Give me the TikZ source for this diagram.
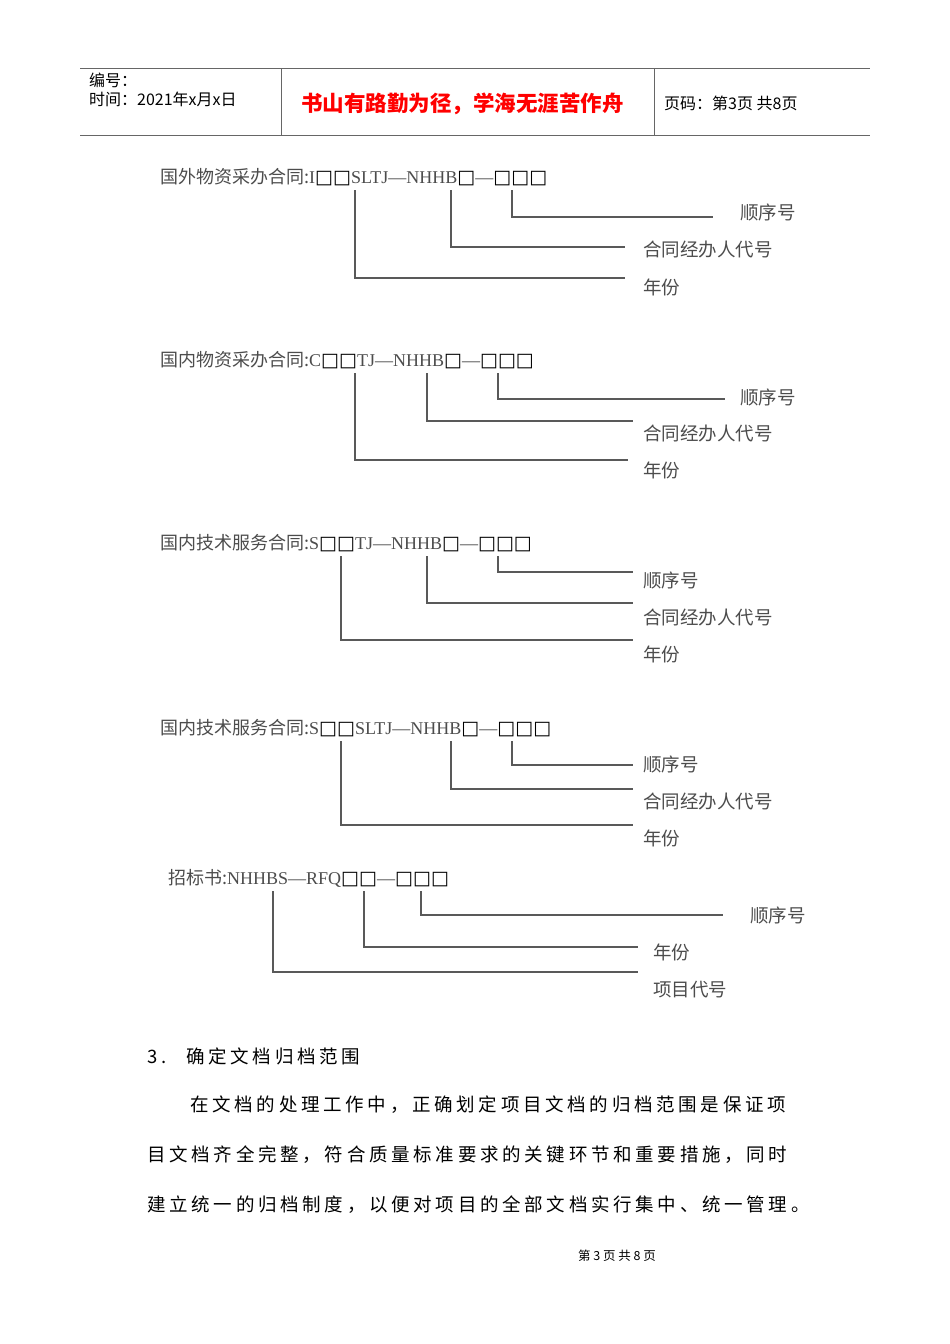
\documentclass[tikz,border=0pt]{standalone}
\usepackage{fontspec}
\setmainfont{Noto Sans CJK SC}
\newfontfamily\dvfont{DejaVu Sans}
\newfontfamily\serifl{Liberation Serif}
\newfontfamily\bodyfont[LetterSpace=20]{Noto Sans CJK SC}
\newcommand{\bx}{{\color{black}\dvfont\fontsize{19}{19}\selectfont\textbf{□}}}
\begin{document}
\begin{tikzpicture}[x=1pt,y=-1pt,
  lbl/.style={anchor=west,inner sep=0,text=black!70,font=\fontsize{18.5}{18.5}\selectfont},
  code/.style={anchor=west,inner sep=0,text=black!70,font=\fontsize{18}{18}\selectfont},
  ln/.style={draw=black!65,line width=1.1pt},
  hd/.style={anchor=west,inner sep=0,font=\fontsize{16}{16}\selectfont},
  body/.style={anchor=west,inner sep=0,font=\bodyfont\fontsize{18.5}{19}\selectfont}]
\useasboundingbox (0,0) rectangle (950,1344);
% header
\draw[black!60,line width=1pt] (80,68) -- (870,68) (80,135) -- (870,135) (281,68) -- (281,135) (654,68) -- (654,135);
\node[hd] (h1) at (89,80) {编号：};
\node[hd] (h2) at (89,99) {时间：2021年x月x日};
\node[hd,text=red,font=\bfseries\fontsize{21.5}{22}\selectfont] (h3) at (301,104) {书山有路勤为径，学海无涯苦作舟};
\node[hd] (h4) at (664,103) {页码：第3页 共8页};
% diagram 1
\node[code] (c1) at (160,177) {国外物资采办合同:{\serifl I\bx\bx SLTJ—NHHB\bx—\bx\bx\bx}};
\node[lbl] (a1) at (740,212) {顺序号};
\node[lbl] (b1) at (643,249) {合同经办人代号};
\node[lbl] (y1) at (643,287) {年份};
\draw[ln] (512,190) -- (512,217) -- (713,217);
\draw[ln] (451,190) -- (451,247) -- (625,247);
\draw[ln] (355,190) -- (355,278) -- (625,278);
% diagram 2
\node[code] (c2) at (160,360) {国内物资采办合同:{\serifl C\bx\bx TJ—NHHB\bx—\bx\bx\bx}};
\node[lbl] (a2) at (740,397) {顺序号};
\node[lbl] (b2) at (643,433) {合同经办人代号};
\node[lbl] (y2) at (643,470) {年份};
\draw[ln] (498,373) -- (498,399) -- (725,399);
\draw[ln] (427,373) -- (427,421) -- (633,421);
\draw[ln] (355,373) -- (355,460) -- (628,460);
% diagram 3
\node[code] (c3) at (160,543) {国内技术服务合同:{\serifl S\bx\bx TJ—NHHB\bx—\bx\bx\bx}};
\node[lbl] (a3) at (643,580) {顺序号};
\node[lbl] (b3) at (643,617) {合同经办人代号};
\node[lbl] (y3) at (643,654) {年份};
\draw[ln] (498,556) -- (498,572) -- (633,572);
\draw[ln] (427,556) -- (427,603) -- (633,603);
\draw[ln] (341,556) -- (341,640) -- (633,640);
% diagram 4
\node[code] (c4) at (160,728) {国内技术服务合同:{\serifl S\bx\bx SLTJ—NHHB\bx—\bx\bx\bx}};
\node[lbl] (a4) at (643,764) {顺序号};
\node[lbl] (b4) at (643,801) {合同经办人代号};
\node[lbl] (y4) at (643,838) {年份};
\draw[ln] (512,741) -- (512,765) -- (633,765);
\draw[ln] (451,741) -- (451,789) -- (633,789);
\draw[ln] (341,741) -- (341,825) -- (633,825);
% diagram 5
\node[code] (c5) at (168,878) {招标书:{\serifl NHHBS—RFQ\bx\bx—\bx\bx\bx}};
\node[lbl] (a5) at (750,915) {顺序号};
\node[lbl] (y5) at (653,952) {年份};
\node[lbl] (p5) at (653,990) {项目代号};
\draw[ln] (421,891) -- (421,915) -- (723,915);
\draw[ln] (364,891) -- (364,947) -- (638,947);
\draw[ln] (273,891) -- (273,972) -- (638,972);
% body
\node[body] (t0) at (147,1056) {3.\hspace{20pt}确定文档归档范围};
\node[body] (t1) at (190,1105) {在文档的处理工作中，正确划定项目文档的归档范围是保证项};
\node[body] (t2) at (147,1155) {目文档齐全完整，符合质量标准要求的关键环节和重要措施，同时};
\node[body] (t3) at (147,1205) {建立统一的归档制度，以便对项目的全部文档实行集中、统一管理。};
\node[anchor=center,inner sep=0,font=\fontsize{12.5}{12.5}\selectfont] (ft) at (617,1256) {第 3 页 共 8 页};
\end{tikzpicture}
\end{document}
